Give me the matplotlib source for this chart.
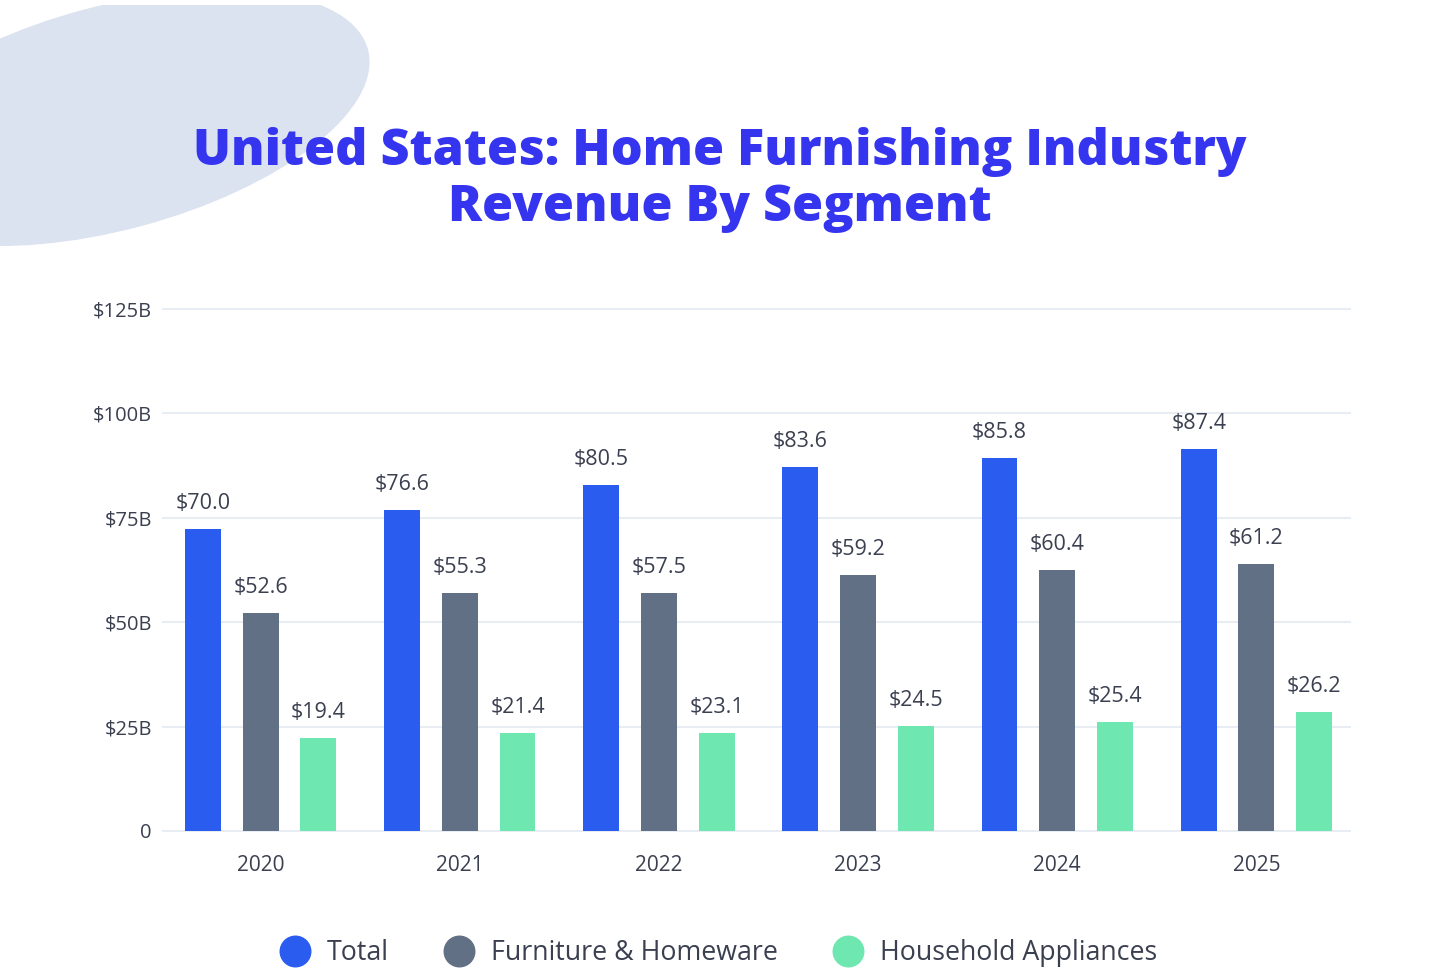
import numpy as np
import matplotlib.pyplot as plt
from matplotlib.patches import Ellipse, Rectangle
from matplotlib.lines import Line2D

# data
years = ['2020', '2021', '2022', '2023', '2024', '2025']
series_names = ['Total', 'Furniture & Homeware', 'Household Appliances']
# bar heights as drawn (in $B)
total_bars = [72.2, 76.8, 82.8, 87.2, 89.4, 91.5]
furniture_bars = [52.3, 57.0, 57.0, 61.4, 62.6, 63.9]
appliance_bars = [22.2, 23.5, 23.5, 25.1, 26.0, 28.5]
# printed value labels
total_labels = ['$70.0', '$76.6', '$80.5', '$83.6', '$85.8', '$87.4']
furniture_labels = ['$52.6', '$55.3', '$57.5', '$59.2', '$60.4', '$61.2']
appliance_labels = ['$19.4', '$21.4', '$23.1', '$24.5', '$25.4', '$26.2']
y_ticks = [0, 25, 50, 75, 100, 125]
y_tick_labels = ['0', '$25B', '$50B', '$75B', '$100B', '$125B']

colors = ['#2B5CF0', '#627085', '#6EE7B0']
text_color = '#3B4050'
font = 'Open Sans'

W, H = 1454, 976
fig = plt.figure(figsize=(W / 100, H / 100), dpi=100)
fig.patch.set_facecolor('white')

# decorative blob in the upper left corner (inch units so the angle is not skewed)
blob = Ellipse((1.12, (H - 118) / 100), 5.3, 2.24, angle=15,
               transform=fig.dpi_scale_trans, facecolor='#DCE3F0', edgecolor='none',
               zorder=0)
fig.patches.append(blob)
fig.patches.append(Rectangle((0, 1 - 5 / H), 1, 5 / H, transform=fig.transFigure,
                             facecolor='white', edgecolor='none', zorder=1))

# title
fig.text(720 / W, 1 - 180 / H, 'United States: Home Furnishing Industry\nRevenue By Segment',
         ha='center', va='center', fontsize=36.2, fontweight='heavy', family=font,
         color='#3535F0', linespacing=1.17, zorder=2)

ax = fig.add_axes([163 / W, 1 - 831 / H, (1350 - 163) / W, (831 - 309) / H])
ax.set_facecolor('none')

x = np.arange(len(years))
offset = 0.29
width = 0.18
bars_all = [total_bars, furniture_bars, appliance_bars]
labels_all = [total_labels, furniture_labels, appliance_labels]
for i, (vals, labs) in enumerate(zip(bars_all, labels_all)):
    pos = x + (i - 1) * offset
    ax.bar(pos, vals, width=width, color=colors[i], zorder=3)
    for px, v, lab in zip(pos, vals, labs):
        ax.text(px, v + 3.6, lab, ha='center', va='bottom', fontsize=15.5,
                family=font, color=text_color)

ax.set_xlim(-0.49, 5.47)
ax.set_ylim(0, 125)
ax.set_yticks(y_ticks)
ax.set_yticklabels(y_tick_labels, family=font, fontsize=14.5, color=text_color)
ax.set_xticks(x)
ax.set_xticklabels(years, family=font, fontsize=15, color=text_color)
ax.tick_params(axis='both', length=0)
ax.tick_params(axis='y', pad=8)
ax.tick_params(axis='x', pad=17)
ax.grid(axis='y', color='#E8ECF3', linewidth=1.5, zorder=0)
ax.set_axisbelow(True)
for s in ax.spines.values():
    s.set_visible(False)
for gl in ax.get_ygridlines():
    gl.set_clip_on(False)

# legend
handles = [Line2D([], [], marker='o', ls='', markersize=22, color=c) for c in colors]
fig.legend(handles, series_names, loc='center', bbox_to_anchor=(718 / W, 1 - 953 / H),
           ncol=3, frameon=False, handlelength=1.2, handletextpad=0.6,
           columnspacing=2.0, prop={'family': font, 'size': 19.3}, labelcolor=text_color)

fig.savefig('out.png', dpi=100)
